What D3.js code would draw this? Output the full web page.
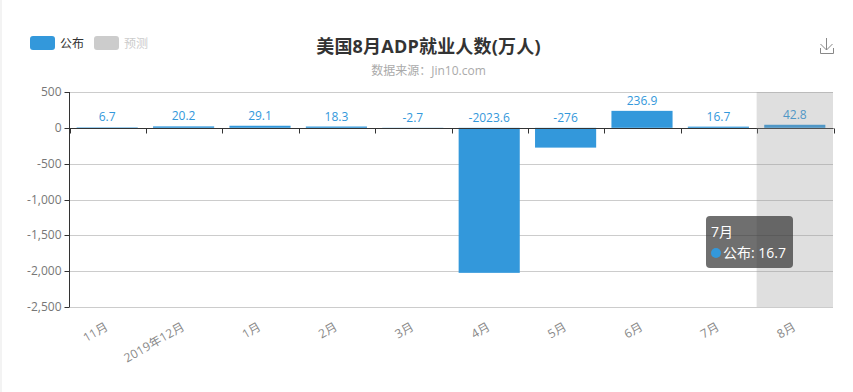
<!DOCTYPE html>
<html>
<head>
<meta charset="utf-8">
<script src="https://cdn.jsdelivr.net/npm/d3@7"></script>
<style>
  html, body { margin: 0; padding: 0; background: #fff; overflow: hidden; }
  #chart { position: relative; width: 853px; height: 392px; font-family: "Open Sans", "Noto Sans CJK SC", sans-serif; }
  svg { display: block; }
  text { font-family: "Open Sans", "Noto Sans CJK SC", sans-serif; }
  .tooltip {
    position: absolute; left: 706px; top: 216px; width: 87px; height: 52px;
    box-sizing: border-box; padding: 5px 5px; border-radius: 4px;
    background: rgba(50,50,50,0.7); color: #fff; font-size: 14px; line-height: 21px; white-space: nowrap;
  }
  .tooltip .dot { display: inline-block; width: 10px; height: 10px; border-radius: 50%; background: #3398DB; margin-right: 2px; }
</style>
</head>
<body>
<div id="chart"></div>
<script>
// Data
const categories = ["11月", "2019年12月", "1月", "2月", "3月", "4月", "5月", "6月", "7月", "8月"];
const published = [6.7, 20.2, 29.1, 18.3, -2.7, -2023.6, -276, 236.9, 16.7, 42.8];
const yTicks = [500, 0, -500, -1000, -1500, -2000, -2500];
const legendNames = ["公布", "预测"];
const highlighted = "8月";
const tooltipCategory = "7月";

const BLUE = "#3398DB";

// Dimensions
const margin = { top: 92, right: 20, bottom: 85, left: 69 },
  fullWidth = 853,
  fullHeight = 392,
  width = fullWidth - margin.left - margin.right,
  height = fullHeight - margin.top - margin.bottom;

const root = d3.select("#chart")
  .append("svg")
  .attr("width", fullWidth)
  .attr("height", fullHeight);

// faint left border of the page
root.append("rect")
  .attr("x", 0).attr("y", 0)
  .attr("width", 2).attr("height", fullHeight)
  .attr("fill", "#f3f3f3");

const svg = root.append("g")
  .attr("transform", `translate(${margin.left},${margin.top})`);

// Scales
const x = d3.scaleBand().domain(categories).range([0, width]);
const y = d3.scaleLinear().domain([-2500, 500]).range([height, 0]);
const barWidth = x.bandwidth() * 0.8;

// snap hairlines to the pixel grid
const crisp = v => Math.round(v) + 0.5;

// Grid
svg.append("g")
  .selectAll("line")
  .data(yTicks.filter(d => d !== 0))
  .enter()
  .append("line")
  .attr("x1", 0)
  .attr("x2", width)
  .attr("y1", d => crisp(y(d)))
  .attr("y2", d => crisp(y(d)))
  .attr("stroke", "#ccc");

// Y axis
const yAxis = svg.append("g")
  .attr("transform", "translate(0.5,0)")
  .call(d3.axisLeft(y)
    .tickValues(yTicks)
    .tickSize(5)
    .tickSizeOuter(0)
    .offset(0)
    .tickPadding(3)
    .tickFormat(d => d3.format(",")(d).replace("−", "-")));
yAxis.selectAll(".tick").attr("transform", d => `translate(0,${crisp(y(d))})`);
yAxis.selectAll("path, line").attr("stroke", "#333");
yAxis.selectAll("text").attr("fill", "#777").attr("font-size", 12)
  .style("font-family", '"Open Sans", "Noto Sans CJK SC", sans-serif');

// Bars
svg.selectAll(".bar")
  .data(published)
  .enter()
  .append("rect")
  .attr("class", "bar")
  .attr("x", (d, i) => x(categories[i]) + (x.bandwidth() - barWidth) / 2)
  .attr("width", barWidth)
  .attr("y", d => y(Math.max(0, d)))
  .attr("height", d => Math.abs(y(d) - y(0)))
  .attr("fill", BLUE);

// Value labels
svg.selectAll(".value")
  .data(published)
  .enter()
  .append("text")
  .attr("class", "value")
  .attr("x", (d, i) => x(categories[i]) + x.bandwidth() / 2)
  .attr("y", d => y(Math.max(0, d)) - 6)
  .attr("text-anchor", "middle")
  .attr("font-size", 12)
  .attr("fill", BLUE)
  .text(d => d);

// X axis sits on the zero line
const xAxis = svg.append("g")
  .attr("transform", `translate(0,${crisp(y(0))})`);
xAxis.append("line")
  .attr("x1", 0).attr("x2", width + 0.5)
  .attr("stroke", "#333");
xAxis.selectAll(".tick")
  .data(categories.concat(null))
  .enter()
  .append("line")
  .attr("class", "tick")
  .attr("x1", d => crisp((d === null ? width : x(d)) + 0.5))
  .attr("x2", d => crisp((d === null ? width : x(d)) + 0.5))
  .attr("y1", 0)
  .attr("y2", 5)
  .attr("stroke", "#333");

// Rotated category labels below the plot
svg.selectAll(".cat")
  .data(categories)
  .enter()
  .append("text")
  .attr("class", "cat")
  .attr("text-anchor", "end")
  .attr("font-size", 12)
  .attr("letter-spacing", 0.3)
  .attr("fill", "#888")
  .attr("transform", d => `translate(${x(d) + x.bandwidth() / 2 + 2},${height + 22}) rotate(-30)`)
  .text(d => d);

// Axis-pointer shadow over the highlighted month
svg.append("rect")
  .attr("x", x(highlighted))
  .attr("y", 0)
  .attr("width", x.bandwidth())
  .attr("height", height)
  .attr("fill", "rgba(150,150,150,0.3)");

// Legend
const legend = root.append("g");
const legendColors = [BLUE, "#ccc"];
const legendText = ["#333", "#ccc"];
const legendX = [30, 94];
legendNames.forEach((name, i) => {
  legend.append("rect")
    .attr("x", legendX[i]).attr("y", 36)
    .attr("width", 25).attr("height", 14)
    .attr("rx", 3)
    .attr("fill", legendColors[i]);
  legend.append("text")
    .attr("x", legendX[i] + 30).attr("y", 48)
    .attr("font-size", 12)
    .attr("fill", legendText[i])
    .text(name);
});

// Title
root.append("text")
  .attr("x", 428.5).attr("y", 53)
  .attr("text-anchor", "middle")
  .attr("font-size", 18)
  .attr("font-weight", "bold")
  .attr("letter-spacing", 0.2)
  .attr("fill", "#333")
  .text("美国8月ADP就业人数(万人)");
root.append("text")
  .attr("x", 428.5).attr("y", 75)
  .attr("text-anchor", "middle")
  .attr("font-size", 12)
  .attr("fill", "#aaa")
  .text("数据来源：Jin10.com");

// Download icon
root.append("path")
  .attr("d", "M826.5 38V50M820.5 44L826.5 50L832.5 44M820.5 48V53.5H833.5V48")
  .attr("fill", "none")
  .attr("stroke", "#888")
  .attr("stroke-width", 1);

// Static tooltip
const tip = d3.select("#chart").append("div").attr("class", "tooltip");
tip.append("div").text(tooltipCategory);
const tipRow = tip.append("div");
tipRow.append("span").attr("class", "dot");
tipRow.append("span").text(`${legendNames[0]}: ${published[categories.indexOf(tooltipCategory)]}`);
</script>
</body>
</html>
